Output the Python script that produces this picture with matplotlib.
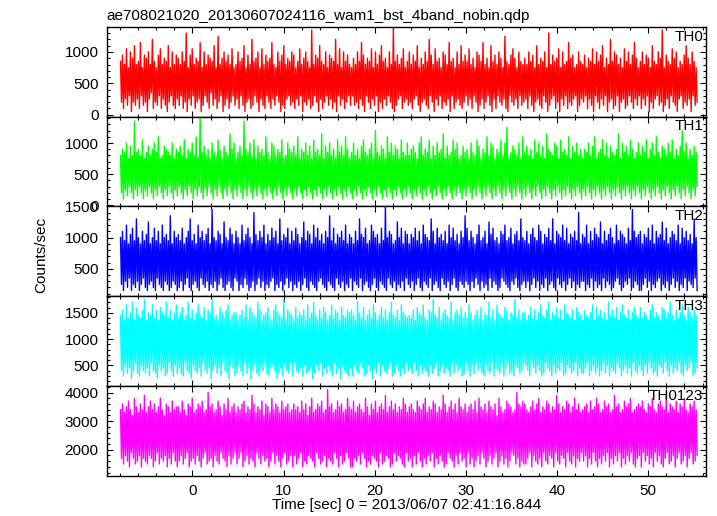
import matplotlib
matplotlib.use("Agg")
import matplotlib.pyplot as plt
import numpy as np
from matplotlib.ticker import MultipleLocator

plt.rcParams['font.family'] = ['Liberation Sans', 'DejaVu Sans']

# light curve values, one character per time bin:
# counts/sec = base + step * digit, digit in base 36 (0-9, a-z)
DIGITS = "0123456789abcdefghijklmnopqrstuvwxyz"
t_start = -7.9
t_stop = 55.4

th0_codes = ("h4j2g5l3f6k1i4m3g5h2n6f3j4i1k5g7o2h4f3j6l2g5i3h1m4f6k3g2j5"
             "i3g6k2h4q1f5j3l6g2i4h5n1f3k6g4j2i7h3m5f2p4g6i1k3h5j2g4l6f3"
             "g5k2h6i3m1f4j5g2o3h6i4k1f5l3g2j6h4i2n5g3f6k4h1j3m2g5i6h3k4"
             "j2f5h3l6g1i4k3h5f2r3g6j4i1m5h2g4k6f3j5i2h4o1g6l3f5k2h4j6g3"
             "f6i3g4k2h5n3j1g6i4h2l5f3k6g1j4m2h5i3f6k4g2s1h3j5g6i2l4f5h3"
             "k4g2j5h6m3f1i4g5k3h2o6j4g1l5h3i6f2k4j3g5n1h6i2f4k5g3m2h4j6"
             "h3l5g2i6f4k1j3h5n2g4i6f3m1h5j2g6k4i3f5p2h1g6j4l3i5f2k6h3g4"
             "i5g2k6h3j1f4m5g3i2h6k4f1q3g5j6h2i4l1f5k3g6h2n4i3j5f6g1k3h5"
             "g4j6f2i5h3l1g6k4h2j5m3f6i1g4o5h2k3j6g1i4f5l2h3k6g4j2n5i3f6"
             "h2k5g3j6i1f4m2h5g6k3i4r1f3j5h2g6l4i3k1f5h6g2j4m3i5g1k6h3f4")

th1_codes = ("g4i2h5k3f6j4g2r5h3i6g4l2f5h3j6g4i2k5h3m6f4g2j5i3h6g4k2f5i3"
             "h6j4g2l5f3i6h4k2g5m3f6t4h2j5g3i6f4k2h5g3l6i4f2j5h3g6n4i2k5"
             "f3h6j4g2r5i3h6k4g2l5f3j6h4i2g5m3h6f4k2j5g3i6h4l2f5g3k6i4h2"
             "j5g3m6f4i2h5k3g6j4f2l5h3i6g4n2f5j3h6k4g2i5f3l6h4j2g5m3i6f4"
             "h2k5g3i6f4j2l5h3g6i4k2f5o3h6g4j2i5f3m6h4k2g5j3i6f4l2h5g3k6"
             "g4i2j5h3f6k4m2g5i3h6l4f2j5g3k6h4i2n5f3j6g4h2l5i3k6f4g2j5h3"
             "i6f4k2h5g3l6j4f2i5h3m6g4k2j5f3i6h4l2g5k3p6f4h2j5i3g6k4f2m5"
             "h3j6g4i2f5l3h6k4g2j5f3n6i4h2g5k3j6f4l2h5i3g6m4f2j5h3k6g4i2"
             "f5i3h6k4g2j5m3f6h4i2l5g3k6f4j2h5g3i6n4f2k5h3j6g4l2i5f3h6k4"
             "g2j5h3l6f4i2k5g3m6h4f2j5i3g6k4h2l5f3i6g4j2o5h3k6f4i2g5j3h6")

th2_codes = ("k5m3j6o4i7l3n5j4q6k3i5m7j4l3p5i6k4n3j7m5i4o3k6l5j3r4i6m5k3"
             "l4j6n3i5k7m4q3j5l6i4o3k7m5j4l6n3i5t4k6j3m5l7i4p3k5j6n4l3i7"
             "m6k3i5o4j7l5n3k4i6s3l5j7m4k6o3i5l4j6n7k3m5i4q6j3l5k7n4i6m3"
             "j5n4l6i3k5p7j4m3l6i5o4k3n6j7l5i4m3k6r5j4n3i7l5k4m6j3o5i4l7"
             "k3i6m5j4q7l3k5n6i4j3o5m7k4l3i6n5j4u3k7m5l4i6j3p5k4n6i3m7l5"
             "i4l6k3n5j7m4i3o6l5k4j7q3m5i6n4k3l7j5m4i6o3k5n7j4l3i6m5k4r6"
             "n5j3m6k4i7l5o3j6k4m5i3p7l4n6j5k3i4m7l6o5j4k3n6i5l7m4j3q5k6"
             "j4m6i3l5n7k4j6o3m5i4l7k3n5j6q4i3m7l5k4o6j3n5i7l4k6m3j5s4i6"
             "l6k3o5i4m7j3n6l4k5p3i7m4j6l5n3k4i6o7j5m3l4k6i5n7j3t4m6k5l3"
             "m3i5l7k4n6j3o5i4m6k7l3p5j4n6i3k5m7l4j6o3i5n4k7m3j6l5i4q7k3")

th3_codes = ("r6t4p8v5q7s3w6p9u5r4q8t6x5p7s4r9v6q5t3p8u6s7r4w5q9t6p4s8v5"
             "q7s5u4p9r6w5q3t8p6s5v7r4q9u6p5t7s3x6q8r5p7u4s9q6t5v3p8r7s4"
             "s5p8r6t4q9v5p7u3s6r8q5w4t7p6r9s5u4q7p8t6v3s5r7q4x8p6t5s9r4"
             "p9u6q5s7r4t8p5v6q7s3w5r8p6t9q4u7s5p8r6v4q9t5s7p3u8r6q5t4s7"
             "t4r8p6w5s9q7u4p5r8t6q3v7s5p9r4u8q6t5p7s9w4r5q8t6p4v7s5r9q6"
             "r7q5t9p6u4s8r5v7q6p4t8s5x7r9q4u6p8s5t7r6q4w9p5s8t6r7u4q5s9"
             "q6v4s8p5r9t6q7u5p4s8r6w5q9t4p7v6s5r8q4u7t9p5s6r4x8q7t5p6s9"
             "s8p6r4u9q7t5p8s6v4r5q9t7w6p4s8r5u7q6t9p4v5s8r7q5t6p9u4s7r5"
             "p5t7r9q4s6v8p5u7r4t6q9s5p8w4r7t6q5u9p7s4v6r8q5t7p4s9u6r5q8"
             "u6q4s8r5p9t7v5q6s4r8p7u5t9q6s4w8r5p7t6q9s5v4r8p6u7s9q4t5r7")

th0123_codes = ("o7q5n8p6r4o9m7s5p6n8q4o7t6n5p8r7o4q6n9p5s7o6m8q4p7n5r9o6p4"
                "p6n8r5o7m9q4p6s7n5o8q6p4r7n9o5u6p7q4n8o6r5p9m7q6o4s8n5p7q9"
                "n5p7o9q4r6n8p5o7t6q4n9p7o5r8m6q7p4n6s9o5q8p6n4r7o9p5q6n8o4"
                "q8o5p7n9r4o6q5m8p7s6n4o9q7p5r6n8o4v7p6q5n9o7r4p8q5n6o9s7p4"
                "o4r7n6p8q5o9n7s4p6m5q8o7r6n4p9q5o6t8n7p4r5o9q6n8p7o5s4q9n6"
                "p7q4o8n5r9p6o4q7s5n8p6o9r4q7n5p8o6t4q5n9p7r6o4q8n5s9p6o7q4"
                "n9p5q7o4r6n8s5p9o7q4n6r8p5o7q9m4s6p8n5o7r4q6p9n8o5u7q4p6r5"
                "q5o7n9p4r8o6q5s7n4p9o6r5q8n7p4o9t6q5n8p7o4r9q6n5p8s4o7q6n9"
                "o6p8q4n7r5o9p6s4q7n5o8r6p9q4n7o5t8p6q9n4o7r5p8q6s9n5o4p7q8"
                "p4r9o6n8q5p7s4o9n6q8r5p4o7t9n5q6p8o4r7n9q5p6s8o4n7q9p5r6o8")

bands = ["TH0", "TH1", "TH2", "TH3", "TH0123"]
codes = [th0_codes, th1_codes, th2_codes, th3_codes, th0123_codes]
bases = [0, 0, 0, 100, 1000]
steps = [50, 50, 50, 50, 100]
colors = ["#ff0000", "#00ff00", "#0000ff", "#00ffff", "#ff00ff"]
ylims = [(-30, 1400), (-20, 1425), (60, 1500), (110, 1815), (1090, 4230)]
ymajor = [500, 500, 500, 500, 1000]
yminor = [100, 100, 100, 100, 200]

fig = plt.figure(figsize=(7.17, 5.16), dpi=100)
gs = fig.add_gridspec(5, 1, left=0.149, right=0.985, top=0.948, bottom=0.078, hspace=0)

for i in range(5):
    ax = fig.add_subplot(gs[i])
    vals = np.array([bases[i] + steps[i] * DIGITS.index(c) for c in codes[i]])
    t = np.linspace(t_start, t_stop, len(vals))
    ax.plot(t, vals, color=colors[i], lw=1.0)
    ax.set_xlim(-9.4, 56.4)
    ax.set_ylim(*ylims[i])
    ax.xaxis.set_major_locator(MultipleLocator(10))
    ax.xaxis.set_minor_locator(MultipleLocator(2))
    ax.yaxis.set_major_locator(MultipleLocator(ymajor[i]))
    ax.yaxis.set_minor_locator(MultipleLocator(yminor[i]))
    ax.tick_params(which='both', direction='in', top=True, right=True, labelsize=11, width=0.8)
    ax.tick_params(which='major', length=4.5, pad=6)
    ax.tick_params(which='minor', length=2.5)
    for s in ax.spines.values():
        s.set_linewidth(1.0)
    ax.text(0.995, 0.97, bands[i], transform=ax.transAxes, ha='right', va='top', fontsize=11)
    if i < 4:
        ax.tick_params(labelbottom=False)
    if i == 0:
        ax.set_title("ae708021020_20130607024116_wam1_bst_4band_nobin.qdp", loc='left', fontsize=11, pad=5)
    if i == 4:
        ax.set_xlabel("Time [sec] 0 = 2013/06/07 02:41:16.844", fontsize=11, labelpad=0)

fig.text(0.058, 0.505, "Counts/sec", rotation=90, ha='center', va='center', fontsize=11)

fig.savefig("out.png", dpi=100)
